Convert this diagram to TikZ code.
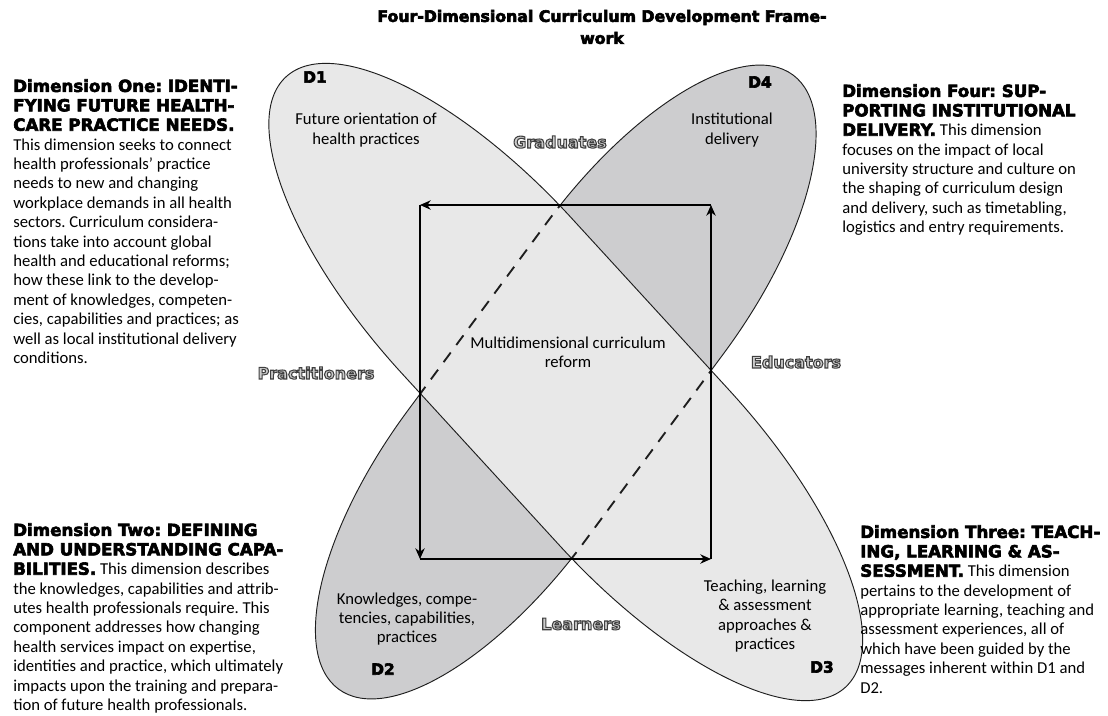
\documentclass[tikz,border=0pt]{standalone}
\usepackage{fontspec}
\setmainfont{Carlito}
\newfontfamily\heavy{DejaVu Sans Bold}
\usepackage{tikz}
\usetikzlibrary{arrows.meta}

\definecolor{paleA}{RGB}{232,232,232}
\definecolor{paleB}{RGB}{205,205,207}
\definecolor{ink}{RGB}{30,30,30}

% heavy words: DejaVu Bold, filled and stroked
\newcommand\hd[1]{{\heavy\special{pdf:literal direct 0 G 0.45 w 2 Tr}#1\special{pdf:literal direct 0 Tr}}}
% outlined word: grey fill, dark stroke
\newcommand\hollowword[1]{\special{pdf:literal direct 0.25 G 0.8 w 2 Tr}#1\special{pdf:literal direct 0 Tr}}
% leaf outline: half length #1, half width #2, straight half-run #3 (local frame)
\newcommand\leaf[3]{(#1,0) .. controls (#1,0.552*#2) and ({#3+0.552*(#1-#3)},#2) .. (#3,#2) -- (-#3,#2)
  .. controls ({-#3-0.552*(#1-#3)},#2) and (-#1,0.552*#2) .. (-#1,0)
  .. controls (-#1,-0.552*#2) and ({-#3-0.552*(#1-#3)},-#2) .. (-#3,-#2) -- (#3,-#2)
  .. controls ({#3+0.552*(#1-#3)},-#2) and (#1,-0.552*#2) .. (#1,0) -- cycle}

\begin{document}
\frenchspacing
\begin{tikzpicture}[x=0.75pt, y=-0.75pt,
  dimtext/.style={font=\fontsize{12.5}{14.55}\selectfont, inner sep=0pt, align=left, anchor=north west},
  dimnote/.style={font=\fontsize{12.5}{14.55}\selectfont, inner sep=0pt, align=center},
  dimlabel/.style={font=\fontsize{11.5}{13}\selectfont, inner sep=0pt},
  rolelabel/.style={font=\heavy\fontsize{12}{14}\selectfont, text=black!20, inner sep=0pt},
  sidearrow/.style={line width=1.1pt, -{Stealth[length=8pt, width=7pt, inset=2.5pt]}},
  leafA/.style={shift={(565.75,382)}, rotate=-47.5},
  leafB/.style={shift={(565.75,382)}, rotate=53.5}]

  \useasboundingbox (0,0) rectangle (1108,715);
  \fill[white] (0,0) rectangle (1108,715);

  % D4--D2 leaf (darker), then D1--D3 leaf on top
  \filldraw[leafB, fill=paleB, draw=ink, line width=0.7pt] \leaf{382}{110}{117};
  \filldraw[leafA, fill=paleA, draw=ink, line width=0.7pt] \leaf{414}{115}{117};

  % hidden part of the D4--D2 outline
  \begin{scope}
    \clip[leafA] \leaf{414}{115}{117};
    \draw[leafB, ink, line width=1.4pt, dash pattern=on 9pt off 7pt] \leaf{382}{110}{117};
  \end{scope}

  % reform cycle
  \coordinate (tl) at (420,205);
  \coordinate (tr) at (711,205);
  \coordinate (br) at (711,559);
  \coordinate (bl) at (420,559);
  \draw[sidearrow] (tr) -- (tl);
  \draw[sidearrow] (tl) -- (bl);
  \draw[sidearrow] (bl) -- (br);
  \draw[sidearrow] (br) -- (tr);

  % title
  \node[font=\fontsize{11.8}{16.5}\selectfont, align=center, inner sep=0pt] (title) at (602,27)
       {\hd{Four-Dimensional Curriculum Development Frame-}\\\hd{work}};

  % dimension descriptions
  \node[dimtext] (dimone) at (13,79) {\hd{Dimension One: IDENTI-}\\\hd{FYING FUTURE HEALTH-}\\\hd{CARE PRACTICE NEEDS.}\\
    This dimension seeks to connect\\health professionals’ practice\\needs to new and changing\\
    workplace demands in all health\\sectors. Curriculum considera-\\tions take into account global\\
    health and educational reforms;\\how these link to the develop-\\ment of knowledges, competen-\\
    cies, capabilities and practices; as\\well as local institutional delivery\\conditions.};

  \node[dimtext] (dimfour) at (842,84) {\hd{Dimension Four: SUP-}\\\hd{PORTING INSTITUTIONAL}\\\hd{DELIVERY.} This dimension\\
    focuses on the impact of local\\university structure and culture on\\the shaping of curriculum design\\
    and delivery, such as timetabling,\\logistics and entry requirements.};

  \node[dimtext] (dimtwo) at (13,523) {\hd{Dimension Two: DEFINING}\\\hd{AND UNDERSTANDING CAPA-}\\\hd{BILITIES.} This dimension describes\\
    the knowledges, capabilities and attrib-\\utes health professionals require. This\\component addresses how changing\\
    health services impact on expertise,\\identities and practice, which ultimately\\impacts upon the training and prepara-\\
    tion of future health professionals.};

  \node[dimtext] (dimthree) at (860,525) {\hd{Dimension Three: TEACH-}\\\hd{ING, LEARNING \& AS-}\\\hd{SESSMENT.} This dimension\\
    pertains to the development of\\appropriate learning, teaching and\\assessment experiences, all of\\
    which have been guided by the\\messages inherent within D1 and\\D2.};

  % labels inside the leaves
  \node[dimlabel] (done) at (315,77) {\hd{D1}};
  \node[dimlabel] (dfour) at (760,82) {\hd{D4}};
  \node[dimlabel] (dtwo) at (383,669) {\hd{D2}};
  \node[dimlabel] (dthree) at (822,667) {\hd{D3}};

  \node[dimnote] (future) at (366,130) {Future orientation of\\health practices};
  \node[dimnote] (inst) at (732,130) {Institutional\\delivery};
  \node[dimnote] (reform) at (568,352) {Multidimensional curriculum\\reform};
  \node[dimnote] (know) at (407,619) {Knowledges, compe-\\tencies, capabilities,\\practices};
  \node[dimnote] (teach) at (765,616) {Teaching, learning\\\& assessment\\approaches \&\\practices};

  % outlined role labels
  \node[rolelabel] (grad) at (560,142) {\hollowword{Graduates}};
  \node[rolelabel] (prac) at (316,373) {\hollowword{Practitioners}};
  \node[rolelabel] (edu) at (796,362) {\hollowword{Educators}};
  \node[rolelabel] (learn) at (581,624) {\hollowword{Learners}};

\end{tikzpicture}
\end{document}
